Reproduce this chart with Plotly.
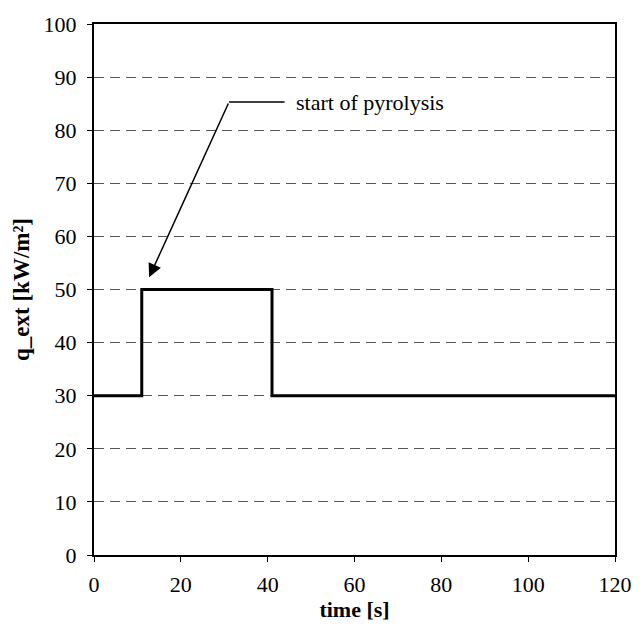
import plotly.graph_objects as go

# data
time_s = [0, 11, 11, 41, 41, 120]
q_ext = [30, 30, 50, 50, 30, 30]
x_ticks = [0, 20, 40, 60, 80, 100, 120]
y_ticks = [0, 10, 20, 30, 40, 50, 60, 70, 80, 90, 100]
annot_text = "start of pyrolysis"
annot_tip = (12.7, 52.3)
annot_elbow = (31.1, 85.3)
annot_end = (43.9, 85.3)

FONT = "Liberation Serif, Times New Roman, serif"

fig = go.Figure()
fig.add_trace(go.Scatter(x=time_s, y=q_ext, mode="lines",
                         line=dict(color="black", width=3), showlegend=False,
                         hoverinfo="skip"))

# leader line (horizontal part)
fig.add_shape(type="line", xref="x", yref="y",
              x0=annot_elbow[0], y0=annot_elbow[1], x1=annot_end[0], y1=annot_end[1],
              line=dict(color="black", width=1.5))
# arrow
fig.add_annotation(x=annot_tip[0], y=annot_tip[1], ax=annot_elbow[0], ay=annot_elbow[1],
                   xref="x", yref="y", axref="x", ayref="y", text="",
                   showarrow=True, arrowhead=2, arrowsize=1.8, arrowwidth=1.5,
                   arrowcolor="black")
fig.add_annotation(x=annot_end[0] + 2.2, y=annot_end[1], xref="x", yref="y",
                   text=annot_text, showarrow=False, xanchor="left", yanchor="middle",
                   font=dict(family=FONT, size=22, color="black"))

fig.update_xaxes(range=[0, 120], tickvals=x_ticks, ticks="outside", ticklen=5,
                 tickcolor="black", showline=True, linecolor="black", linewidth=2,
                 mirror=True, showgrid=False, zeroline=False, ticklabelstandoff=4,
                 tickfont=dict(family=FONT, size=22, color="black"),
                 title=dict(text="<b>time [s]</b>", font=dict(family=FONT, size=22, color="black"),
                            standoff=4))
fig.update_yaxes(range=[0, 100], tickvals=y_ticks, ticks="outside", ticklen=5,
                 tickcolor="black", showline=True, linecolor="black", linewidth=2,
                 mirror=True, showgrid=True, gridcolor="#555555", griddash="10px,6px",
                 gridwidth=1, zeroline=False, ticklabelstandoff=6,
                 tickfont=dict(family=FONT, size=22, color="black"),
                 title=dict(text="<b>q_ext [kW/m²]</b>", font=dict(family=FONT, size=23, color="black"),
                            standoff=8))

fig.update_layout(width=644, height=631, margin=dict(l=94, r=22, t=18, b=76),
                  plot_bgcolor="white", paper_bgcolor="white")
fig.write_html("out.html")
